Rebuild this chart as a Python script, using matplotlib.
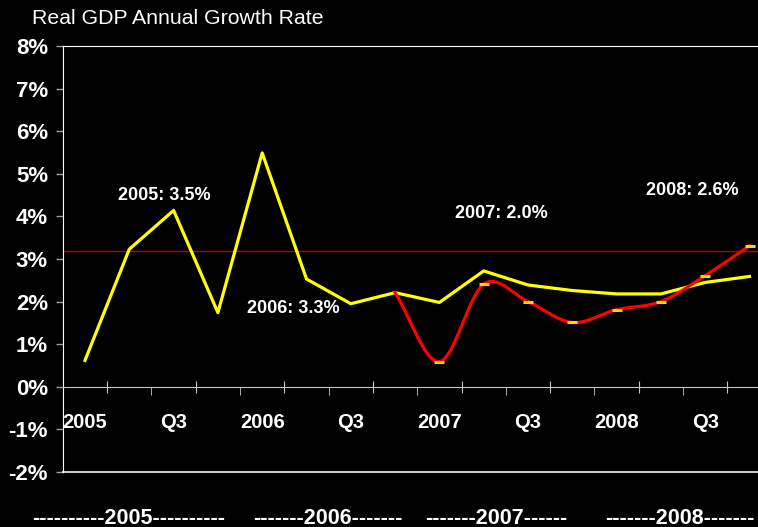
import numpy as np
import matplotlib
matplotlib.use('Agg')
import matplotlib.pyplot as plt

# quarterly real GDP growth, 2005 Q1 .. 2008 Q4
quarters = ['2005', 'Q2', 'Q3', 'Q4', '2006', 'Q2', 'Q3', 'Q4',
            '2007', 'Q2', 'Q3', 'Q4', '2008', 'Q2', 'Q3', 'Q4']
actual = [0.62, 3.23, 4.14, 1.74, 5.49, 2.53, 1.95, 2.21,
          1.98, 2.72, 2.39, 2.26, 2.18, 2.18, 2.45, 2.59]
# second series starts at 2006 Q4
alt_start = 7
alt = [2.21, 0.59, 2.41, 2.0, 1.51, 1.81, 2.0, 2.61, 3.31]
ref_level = 3.18

year_notes = ['2005: 3.5%', '2006: 3.3%', '2007: 2.0%', '2008: 2.6%']
note_pos = [(1.8, 4.5), (4.7, 1.83), (9.4, 4.06), (13.7, 4.6)]
bottom_labels = ['----------2005----------', '-------2006-------',
                 '-------2007------', '-------2008-------']
bottom_x = [129, 328, 496, 680]

plt.rcParams['font.family'] = ['Liberation Sans', 'DejaVu Sans']


def smooth(xs, ys, n=20):
    # catmull-rom style smoothing like a spreadsheet "smoothed line"
    xs = np.asarray(xs, float)
    ys = np.asarray(ys, float)
    px = np.concatenate([[2 * xs[0] - xs[1]], xs, [2 * xs[-1] - xs[-2]]])
    py = np.concatenate([[2 * ys[0] - ys[1]], ys, [2 * ys[-1] - ys[-2]]])
    out_x, out_y = [], []
    for i in range(1, len(px) - 2):
        t = np.linspace(0, 1, n)
        for p, out in ((px, out_x), (py, out_y)):
            p0, p1, p2, p3 = p[i - 1], p[i], p[i + 1], p[i + 2]
            out.extend(0.5 * (2 * p1 + (-p0 + p2) * t
                              + (2 * p0 - 5 * p1 + 4 * p2 - p3) * t ** 2
                              + (-p0 + 3 * p1 - 3 * p2 + p3) * t ** 3))
    return out_x, out_y


fig = plt.figure(figsize=(7.58, 5.27), dpi=100, facecolor='black')
ax = fig.add_axes([63.3 / 758, 1 - 472 / 527, 1 - 63.3 / 758, (472 - 46) / 527])
ax.set_facecolor('black')

x = np.arange(len(actual))
ax.axhline(ref_level, color='#c00000', lw=1.0, zorder=1)
ax.plot(x, actual, color='#ffff00', lw=2.3, zorder=3)

ax_x = np.arange(alt_start, alt_start + len(alt))
sx, sy = smooth(ax_x, alt)
ax.plot(sx, sy, color='#ff0000', lw=2.3, zorder=4)
ax.plot(ax_x[1:], alt[1:], ls='none', marker='_', ms=7, mew=2.2,
        color='#ffd700', zorder=5)

ax.set_yticks(range(-2, 9))
ax.set_yticklabels([f'{v}%' for v in range(-2, 9)], fontsize=16,
                   fontweight='bold', color='white')
ax.tick_params(axis='y', direction='out', length=5, width=1,
               color='#a0a0a0', pad=6)

# category axis sits on the 0% line
ax.spines['bottom'].set_position(('data', 0))
ax.spines['bottom'].set_color('#c8c8c8')
ax.spines['left'].set_color('white')
ax.spines['top'].set_color('white')
ax.spines['right'].set_visible(False)
ax.axhline(-2, color='#c8c8c8', lw=1.5, clip_on=False)
ax.set_xticks(np.arange(0.5, len(actual), 2))
ax.set_xticks(np.arange(1.5, len(actual), 2), minor=True)
ax.tick_params(axis='x', which='major', direction='inout', length=8,
               color='#c8c8c8', labelbottom=False)
ax.tick_params(axis='x', which='minor', direction='out', length=6,
               color='#c8c8c8', labelbottom=False)
ax.set_xlim(-0.49, (758 - 85) / 44.3)
ax.set_ylim(-2, 8)

for i in range(0, len(quarters), 2):
    ax.text(i, -0.83, quarters[i], ha='center', va='center', fontsize=14.5,
            fontweight='bold', color='white')

for t, (tx, ty) in zip(year_notes, note_pos):
    ax.text(tx, ty, t, ha='center', va='center', fontsize=13,
            fontweight='bold', color='white')

for t, bx in zip(bottom_labels, bottom_x):
    fig.text(bx / 758, 1 - 518 / 527, t, ha='center', va='center',
             fontsize=15.5, fontweight='bold', color='white')

fig.text(32 / 758, 1 - 19 / 527, 'Real GDP Annual Growth Rate', ha='left',
         va='center', fontsize=15.3, color='white')

fig.savefig('out.png', dpi=100, facecolor='black')
